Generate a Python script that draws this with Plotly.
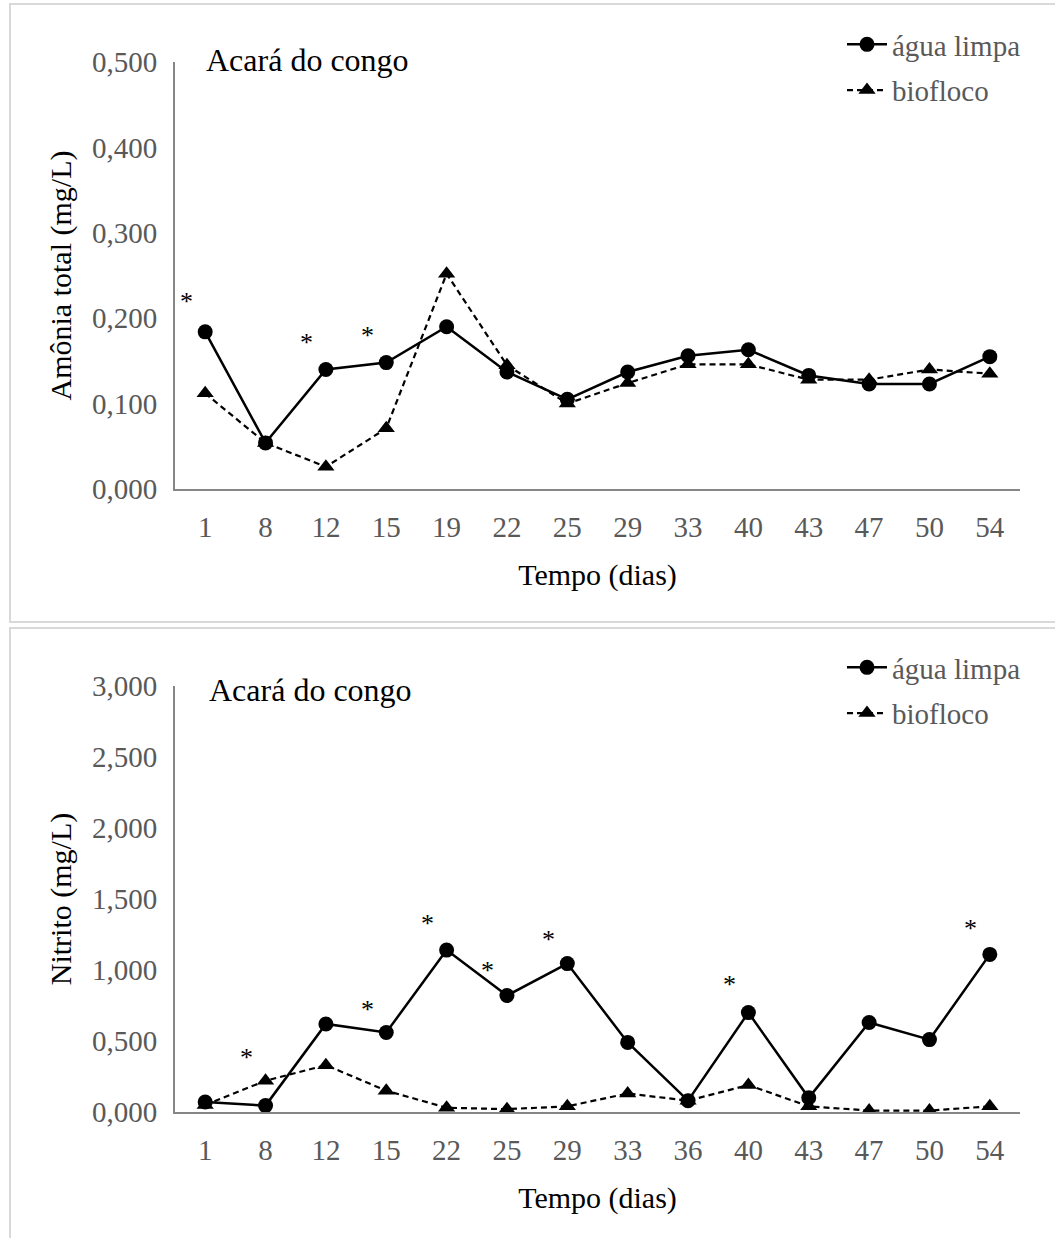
import plotly.graph_objects as go

# ---------------- data ----------------
dias_amonia = ["1", "8", "12", "15", "19", "22", "25", "29", "33", "40", "43", "47", "50", "54"]
amonia_limpa = [0.184, 0.054, 0.140, 0.148, 0.190, 0.137, 0.105, 0.137, 0.156, 0.163, 0.133, 0.123, 0.123, 0.155]
amonia_bio = [0.112, 0.054, 0.026, 0.071, 0.252, 0.145, 0.100, 0.124, 0.146, 0.146, 0.128, 0.128, 0.140, 0.135]
amonia_ast_x = ["1", "12", "15"]
amonia_ast_y = [0.225, 0.177, 0.186]

dias_nitrito = ["1", "8", "12", "15", "22", "25", "29", "33", "36", "40", "43", "47", "50", "54"]
nitrito_limpa = [0.07, 0.045, 0.62, 0.56, 1.14, 0.82, 1.045, 0.49, 0.08, 0.70, 0.10, 0.63, 0.51, 1.11]
nitrito_bio = [0.05, 0.22, 0.33, 0.15, 0.03, 0.02, 0.04, 0.13, 0.08, 0.19, 0.04, 0.01, 0.01, 0.04]
nitrito_ast_x = ["8", "15", "22", "25", "29", "40", "54"]
nitrito_ast_y = [0.42, 0.76, 1.36, 1.03, 1.25, 0.93, 1.33]

serie_nomes = ["água limpa", "biofloco"]
titulo = "Acará do congo"

# ---------------- figure ----------------
W, H = 1055, 1238
FONT = "Liberation Serif"
GRAY_TXT = "#595959"
AXIS_COL = "#868686"


def py(p):
    return 1 - p / H


def px(p):
    return p / W


fig = go.Figure()

line_solid = dict(color="black", width=2.5)
line_dash = dict(color="black", width=2.2, dash="6px,4px")

# top chart
fig.add_trace(go.Scatter(x=dias_amonia, y=amonia_limpa, name=serie_nomes[0], mode="lines+markers",
                         line=line_solid, marker=dict(symbol="circle", size=15, color="black"),
                         xaxis="x", yaxis="y", legend="legend", legendgroup="a1"))
fig.add_trace(go.Scatter(x=dias_amonia, y=amonia_bio, name=serie_nomes[1], mode="lines+markers",
                         line=line_dash, marker=dict(symbol="triangle-up", size=15, color="black"),
                         xaxis="x", yaxis="y", legend="legend", legendgroup="a2"))
# bottom chart
fig.add_trace(go.Scatter(x=dias_nitrito, y=nitrito_limpa, name=serie_nomes[0], mode="lines+markers",
                         line=line_solid, marker=dict(symbol="circle", size=15, color="black"),
                         xaxis="x2", yaxis="y2", legend="legend2", legendgroup="b1"))
fig.add_trace(go.Scatter(x=dias_nitrito, y=nitrito_bio, name=serie_nomes[1], mode="lines+markers",
                         line=line_dash, marker=dict(symbol="triangle-up", size=15, color="black"),
                         xaxis="x2", yaxis="y2", legend="legend2", legendgroup="b2"))

annotations = []
for xv, yv in zip(amonia_ast_x, amonia_ast_y):
    annotations.append(dict(x=dias_amonia.index(xv), y=yv, xref="x", yref="y", text="*", showarrow=False,
                            xshift=-19, yshift=-5, font=dict(family=FONT, size=26, color="black")))
for xv, yv in zip(nitrito_ast_x, nitrito_ast_y):
    annotations.append(dict(x=dias_nitrito.index(xv), y=yv, xref="x2", yref="y2", text="*", showarrow=False,
                            xshift=-19, yshift=-5, font=dict(family=FONT, size=26, color="black")))
annotations.append(dict(x=px(204), y=py(60), xref="paper", yref="paper", text=titulo, showarrow=False,
                        xanchor="left", yanchor="middle", font=dict(family=FONT, size=32, color="black")))
annotations.append(dict(x=px(207), y=py(690), xref="paper", yref="paper", text=titulo, showarrow=False,
                        xanchor="left", yanchor="middle", font=dict(family=FONT, size=32, color="black")))

shapes = [
    dict(type="rect", xref="paper", yref="paper", x0=px(10), x1=px(1070), y0=py(622), y1=py(4),
         line=dict(color="#d9d9d9", width=2), layer="below"),
    dict(type="rect", xref="paper", yref="paper", x0=px(10), x1=px(1070), y0=py(1260), y1=py(628),
         line=dict(color="#d9d9d9", width=2), layer="below"),
]

xdom = [px(175), px(1020)]
common_x = dict(type="category", range=[-0.5, 13.5], showline=True, linecolor=AXIS_COL, linewidth=2,
                showgrid=False, zeroline=False, ticks="", ticklabelstandoff=11, automargin=False,
                tickfont=dict(family=FONT, size=29, color=GRAY_TXT), domain=xdom,
                title=dict(text="Tempo (dias)", font=dict(family=FONT, size=30, color="black"), standoff=22))
common_y = dict(showline=True, linecolor=AXIS_COL, linewidth=2, showgrid=False, zeroline=False,
                ticks="", ticklabelstandoff=10, tickformat=".3f", automargin=False,
                tickfont=dict(family=FONT, size=29, color=GRAY_TXT))

legend_common = dict(font=dict(family=FONT, size=29, color=GRAY_TXT), bgcolor="rgba(0,0,0,0)",
                     xanchor="left", yanchor="top", traceorder="grouped", tracegroupgap=5,
                     itemwidth=40)

fig.update_layout(
    width=W, height=H, autosize=False,
    margin=dict(l=0, r=0, t=0, b=0, autoexpand=False),
    paper_bgcolor="white", plot_bgcolor="white",
    separators=",.",
    font=dict(family=FONT),
    xaxis=dict(common_x, anchor="y"),
    yaxis=dict(common_y, anchor="x", domain=[py(489), py(62)], range=[0, 0.5], dtick=0.1,
               title=dict(text="Amônia total (mg/L)", font=dict(family=FONT, size=30, color="black"), standoff=11)),
    xaxis2=dict(common_x, anchor="y2"),
    yaxis2=dict(common_y, anchor="x2", domain=[py(1112), py(686)], range=[0, 3], dtick=0.5,
                title=dict(text="Nitrito (mg/L)", font=dict(family=FONT, size=30, color="black"), standoff=11)),
    legend=dict(legend_common, x=px(842), y=py(19)),
    legend2=dict(legend_common, x=px(842), y=py(642)),
    annotations=annotations,
    shapes=shapes,
    showlegend=True,
)

fig.write_html("out.html", config={"displayModeBar": False},
               post_script="document.body.style.margin='0';document.body.style.overflow='hidden';")
